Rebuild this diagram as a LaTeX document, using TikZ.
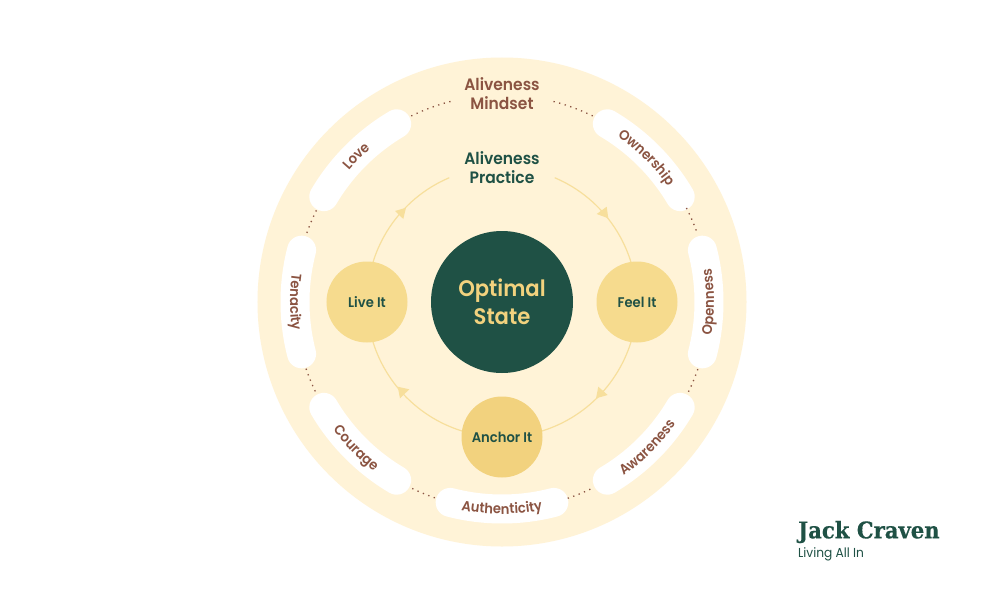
\documentclass[tikz,border=0pt]{standalone}
\usepackage{fontspec}
\usetikzlibrary{decorations.text}
\setmainfont{Poppins}[BoldFont={Poppins SemiBold},FakeStretch=0.94]
\newfontfamily\logofont{DejaVu Serif}[BoldFont={DejaVu Serif Bold},FakeStretch=0.92,BoldFeatures={FakeBold=0.4}]
\definecolor{bgpale}{HTML}{FFF3D7}
\definecolor{deepgreen}{HTML}{1F5145}
\definecolor{brownlab}{HTML}{8B5442}
\definecolor{softgold}{HTML}{F6DB8E}
\definecolor{deepgold}{HTML}{F2D27E}
\definecolor{linegold}{HTML}{F7DF9C}
\definecolor{optgold}{HTML}{F2D27E}
\newcommand{\bandfont}{\fontsize{14}{15}\selectfont\bfseries\color{brownlab}}
\tikzset{
  x=1pt,y=1pt,
  band/.style={draw=white,line width=29pt,line cap=round},
  dotlink/.style={draw=brownlab,line width=1.3pt,dash pattern=on 1.3pt off 4.5pt},
  cyc/.style={draw=linegold,line width=1.2pt},
  tipfill/.style={fill=linegold},
  phase/.style={circle,minimum size=81pt,inner sep=0pt,font=\fontsize{14}{15}\selectfont\bfseries,text=deepgreen},
  bandtext/.style={decorate,decoration={text along path,text align=center,text={|\bandfont|#1}}},
  head/.style={align=center,inner sep=0pt,font=\fontsize{16.5}{18.8}\selectfont\bfseries}
}
\begin{document}
\begin{tikzpicture}
\useasboundingbox (-502,-298) rectangle (498,302);
\fill[white] (-502,-298) rectangle (498,302);
\node[circle,fill=bgpale,minimum size=489pt,inner sep=0pt] (disc) at (0,0) {};

% white bands
\foreach \a/\b in {149.4/120.6,59.4/30.6,165.5/194.5,345.5/374.5,300.6/329.4,255.5/284.5,210.6/239.4}
  \draw[band] (\a:207) arc[start angle=\a,end angle=\b,radius=207pt];

% dotted links
\foreach \a/\b in {116/104.4,75.6/64,160.5/153,27/19.5,198.8/205.7,334.3/341.2,244.3/251.5,288.5/295.7}
  \draw[dotlink] (\a:207) arc[start angle=\a,end angle=\b,radius=207pt];

% band labels
\path[bandtext=Love] (149.4:202) arc[start angle=149.4,end angle=120.6,radius=202pt];
\path[bandtext=Ownership] (59.4:202) arc[start angle=59.4,end angle=30.6,radius=202pt];
\path[bandtext=Tenacity] (165.5:212) arc[start angle=165.5,end angle=194.5,radius=212pt];
\path[bandtext=Openness] (345.5:212) arc[start angle=345.5,end angle=374.5,radius=212pt];
\path[bandtext=Awareness] (300.6:212) arc[start angle=300.6,end angle=329.4,radius=212pt];
\path[bandtext=Authenticity] (255.5:212) arc[start angle=255.5,end angle=284.5,radius=212pt];
\path[bandtext=Courage] (210.6:212) arc[start angle=210.6,end angle=239.4,radius=212pt];

% practice cycle
\coordinate (liveC) at (-135,0);
\coordinate (feelC) at (135,0);
\coordinate (anchorC) at (0,-135);
\draw[cyc] (liveC) arc[start angle=180,end angle=113,radius=135pt];
\draw[cyc] (feelC) arc[start angle=0,end angle=67,radius=135pt];
\draw[cyc] (feelC) arc[start angle=0,end angle=-90,radius=135pt];
\draw[cyc] (anchorC) arc[start angle=270,end angle=180,radius=135pt];
\fill[tipfill] (-107,91) -- (-96,94.3) -- (-98.7,83) -- cycle;
\fill[tipfill] (104.7,95.3) -- (94.7,88) -- (106.3,83.7) -- cycle;
\fill[tipfill] (96.3,-84.7) -- (105.7,-93) -- (94,-96.3) -- cycle;
\fill[tipfill] (-104.3,-84.7) -- (-92.7,-87.3) -- (-102,-96.3) -- cycle;

\node[phase,fill=softgold] (live) at (liveC) {Live It};
\node[phase,fill=softgold] (feel) at (feelC) {Feel It};
\node[phase,fill=deepgold] (anchor) at (anchorC) {Anchor It};
\node[circle,fill=deepgreen,minimum size=142pt,inner sep=0pt,align=center,text=optgold,font=\fontsize{22.5}{28}\selectfont\bfseries] (core) at (0,0) {Optimal\\State};

\node[head,text=brownlab] (mindset) at (0,208.5) {Aliveness\\Mindset};
\node[head,text=deepgreen] (practice) at (0,134.5) {Aliveness\\Practice};

\node[anchor=west,inner sep=0pt,text=deepgreen,font=\logofont\bfseries\fontsize{23}{26}\selectfont] (logo) at (296,-230) {Jack Craven};
\node[anchor=west,inner sep=0pt,text=deepgreen,font=\fontsize{13}{15}\selectfont] (tag) at (296,-252) {Living All In};
\end{tikzpicture}
\end{document}
